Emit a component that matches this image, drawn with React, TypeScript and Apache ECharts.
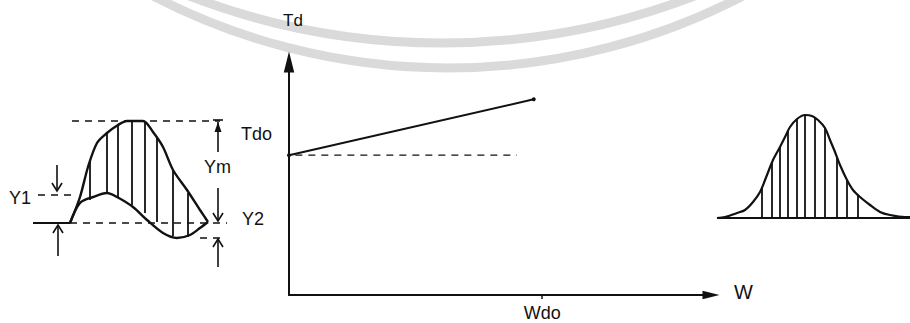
import React, { useEffect, useRef } from "react";
import * as echarts from "echarts";

// ---------- main chart (Td vs W) ----------
const mainLine: number[][] = [[0, 60], [58, 84]];
const tdoDash: number[][] = [[1.5, 60], [54, 60]];
const wdoValue = 60;
const mainTickLabels = ["Wdo"];

// ---------- left diagram (local units) ----------
const leftUpper: number[][] = [
  [40, 47], [50, 73], [58, 103], [67, 127], [77, 137], [88, 145], [97, 149],
  [113, 149], [123, 138], [133, 123], [143, 100], [157, 80], [170, 60], [178, 48],
];
const leftLower: number[][] = [
  [40, 47], [50, 67], [63, 73], [77, 77], [87, 73], [103, 63], [117, 50],
  [133, 37], [147, 32], [160, 35], [170, 42], [178, 48],
];
// [x, yLow, yHigh]
const leftHatch: number[][] = [
  [60, 70, 110], [77, 77, 137], [88, 73, 145], [102, 65, 149],
  [115, 57, 148], [127, 48, 132], [143, 34, 100], [158, 33, 77],
];
// [x1, y1, x2, y2, dashed]
const leftSegments: number[][] = [
  [42, 149, 190, 149, 1],
  [3, 47, 40, 47, 0],
  [40, 47, 197, 47, 1],
  [8, 75, 47, 75, 1],
  [170, 32, 195, 32, 1],
];
// [x, yFrom, yTo, filledHead, tickAtEnd]
const leftArrows: number[][] = [
  [27, 105, 79, 0, 0],
  [28, 14, 45, 0, 0],
  [188, 118, 148, 1, 1],
  [188, 82, 49, 0, 0],
  [188, 3, 31, 0, 0],
];
const leftLabels = ["Y1", "Tdo", "Ym", "Y2"];

// ---------- right diagram (local units) ----------
const bell: number[][] = [
  [17, 12], [25, 13], [37, 17], [45, 20], [53, 28], [60, 38], [67, 55], [73, 70],
  [80, 83], [86, 95], [90, 103], [97, 111], [105, 115], [112, 114], [118, 110],
  [125, 102], [130, 90], [135, 78], [140, 65], [147, 50], [153, 40], [160, 33],
  [170, 25], [180, 18], [190, 15], [205, 13], [210, 13],
];
const bellBase: number[][] = [[17, 12, 210, 12, 0]];
const bellHatch: number[][] = [
  [62, 12, 43], [72, 12, 67], [80, 12, 83], [88, 12, 99], [97, 12, 111],
  [105, 12, 115], [115, 12, 112], [125, 12, 102], [137, 12, 73], [147, 12, 50],
  [158, 12, 35],
];

const INK = "#111";
const FONT = "Liberation Sans";
const SOLID_ARROW = "path://M5,0 L10,20 L0,20 Z";

function hatchRender(params: any, api: any) {
  const a = api.coord([api.value(0), api.value(1)]);
  const b = api.coord([api.value(0), api.value(2)]);
  return {
    type: "line",
    shape: { x1: a[0], y1: a[1], x2: b[0], y2: b[1] },
    style: { stroke: INK, lineWidth: 1.8 },
  };
}

function segRender(params: any, api: any) {
  const a = api.coord([api.value(0), api.value(1)]);
  const b = api.coord([api.value(2), api.value(3)]);
  const dashed = api.value(4) === 1;
  return {
    type: "line",
    shape: { x1: a[0], y1: a[1], x2: b[0], y2: b[1] },
    style: {
      stroke: INK,
      lineWidth: dashed ? 1.4 : 2,
      lineDash: dashed ? [7, 6] : null,
    },
  };
}

function arrowRender(params: any, api: any) {
  const a = api.coord([api.value(0), api.value(1)]);
  const b = api.coord([api.value(0), api.value(2)]);
  const filled = api.value(3) === 1;
  const tick = api.value(4) === 1;
  const dir = b[1] < a[1] ? 1 : -1; // 1 = pointing up on screen
  const tipX = b[0];
  const tipY = b[1];
  const children: any[] = [
    {
      type: "line",
      shape: { x1: a[0], y1: a[1], x2: tipX, y2: tipY },
      style: { stroke: INK, lineWidth: 1.6 },
    },
  ];
  if (filled) {
    children.push({
      type: "polygon",
      shape: {
        points: [
          [tipX, tipY],
          [tipX - 3.5, tipY + dir * 10],
          [tipX + 3.5, tipY + dir * 10],
        ],
      },
      style: { fill: INK },
    });
  } else {
    children.push({
      type: "polyline",
      shape: {
        points: [
          [tipX - 5, tipY + dir * 8],
          [tipX, tipY],
          [tipX + 5, tipY + dir * 8],
        ],
      },
      style: { stroke: INK, lineWidth: 1.6, fill: "none" },
    });
  }
  if (tick) {
    children.push({
      type: "line",
      shape: { x1: tipX - 5, y1: tipY - 2, x2: tipX + 5, y2: tipY - 2 },
      style: { stroke: INK, lineWidth: 1.6 },
    });
  }
  return { type: "group", children };
}

export default function App() {
  const ref = useRef<HTMLDivElement>(null);

  useEffect(() => {
    if (!ref.current) return;
    const chart = echarts.init(ref.current, undefined, { renderer: "svg" });

    const hiddenAxis = (min: number, max: number) => ({
      type: "value",
      min,
      max,
      show: false,
    });

    const text = (t: string, x: number, y: number, size: number, align = "left") => ({
      type: "text",
      x,
      y,
      z: 10,
      style: {
        text: t,
        fill: INK,
        font: `${size}px "${FONT}"`,
        textAlign: align,
        textVerticalAlign: "middle",
      },
    });

    const option: any = {
      animation: false,
      backgroundColor: "#ffffff",
      grid: [
        { left: 289, top: 62, width: 422, height: 233 },
        { left: 30, top: 120, width: 200, height: 150 },
        { left: 700, top: 100, width: 210, height: 130 },
      ],
      xAxis: [
        {
          type: "value",
          gridIndex: 0,
          min: 0,
          max: 100,
          splitLine: { show: false },
          axisLine: {
            show: true,
            symbol: ["none", SOLID_ARROW],
            symbolSize: [14, 17],
            lineStyle: { color: INK, width: 2 },
          },
          axisTick: {
            show: true,
            customValues: [wdoValue],
            length: 4,
            lineStyle: { color: INK, width: 1.5 },
          },
          axisLabel: {
            show: true,
            customValues: [wdoValue],
            formatter: () => mainTickLabels[0],
            color: INK,
            fontFamily: FONT,
            fontSize: 18,
            margin: 9,
          },
        },
        { ...hiddenAxis(0, 200), gridIndex: 1 },
        { ...hiddenAxis(0, 210), gridIndex: 2 },
      ],
      yAxis: [
        {
          type: "value",
          gridIndex: 0,
          min: 0,
          max: 100,
          splitLine: { show: false },
          axisTick: { show: false },
          axisLabel: { show: false },
          axisLine: {
            show: true,
            symbol: ["none", SOLID_ARROW],
            symbolSize: [12, 21],
            lineStyle: { color: INK, width: 2 },
          },
        },
        { ...hiddenAxis(0, 150), gridIndex: 1 },
        { ...hiddenAxis(0, 130), gridIndex: 2 },
      ],
      graphic: [
        {
          type: "arc",
          z: -10,
          shape: { cx: 448, cy: -572, r: 640, startAngle: Math.PI / 2 - 0.5, endAngle: Math.PI / 2 + 0.5 },
          style: { stroke: "#dadada", lineWidth: 9, fill: "none" },
        },
        {
          type: "arc",
          z: -10,
          shape: { cx: 442, cy: -659, r: 702, startAngle: Math.PI / 2 - 0.4, endAngle: Math.PI / 2 + 0.4 },
          style: { stroke: "#dadada", lineWidth: 9, fill: "none" },
        },
        text("Td", 283, 20, 17),
        text("W", 734, 292, 20),
        text(leftLabels[0], 9, 198, 18),
        text(leftLabels[1], 241, 134, 18),
        text(leftLabels[2], 204, 167, 18),
        text(leftLabels[3], 242, 219, 18),
      ],
      series: [
        {
          type: "line",
          xAxisIndex: 0,
          yAxisIndex: 0,
          data: mainLine,
          symbol: "circle",
          symbolSize: 4,
          itemStyle: { color: INK },
          lineStyle: { color: INK, width: 2 },
        },
        {
          type: "line",
          xAxisIndex: 0,
          yAxisIndex: 0,
          data: tdoDash,
          symbol: "none",
          lineStyle: { color: INK, width: 1.3, type: [7, 6] },
        },
        {
          type: "line",
          xAxisIndex: 1,
          yAxisIndex: 1,
          data: leftUpper,
          smooth: 0.3,
          symbol: "none",
          lineStyle: { color: INK, width: 2.4 },
        },
        {
          type: "line",
          xAxisIndex: 1,
          yAxisIndex: 1,
          data: leftLower,
          smooth: 0.3,
          symbol: "none",
          lineStyle: { color: INK, width: 2.4 },
        },
        {
          type: "custom",
          xAxisIndex: 1,
          yAxisIndex: 1,
          data: leftHatch,
          renderItem: hatchRender,
        },
        {
          type: "custom",
          xAxisIndex: 1,
          yAxisIndex: 1,
          data: leftSegments,
          renderItem: segRender,
        },
        {
          type: "custom",
          xAxisIndex: 1,
          yAxisIndex: 1,
          data: leftArrows,
          renderItem: arrowRender,
        },
        {
          type: "line",
          xAxisIndex: 2,
          yAxisIndex: 2,
          data: bell,
          smooth: 0.3,
          symbol: "none",
          lineStyle: { color: INK, width: 2.2 },
        },
        {
          type: "custom",
          xAxisIndex: 2,
          yAxisIndex: 2,
          data: bellBase,
          renderItem: segRender,
        },
        {
          type: "custom",
          xAxisIndex: 2,
          yAxisIndex: 2,
          data: bellHatch,
          renderItem: hatchRender,
        },
      ],
    };

    chart.setOption(option);
    return () => chart.dispose();
  }, []);

  return (
    <div
      ref={ref}
      style={{ position: "absolute", left: 0, top: 0, width: 910, height: 323, background: "#fff" }}
    />
  );
}
